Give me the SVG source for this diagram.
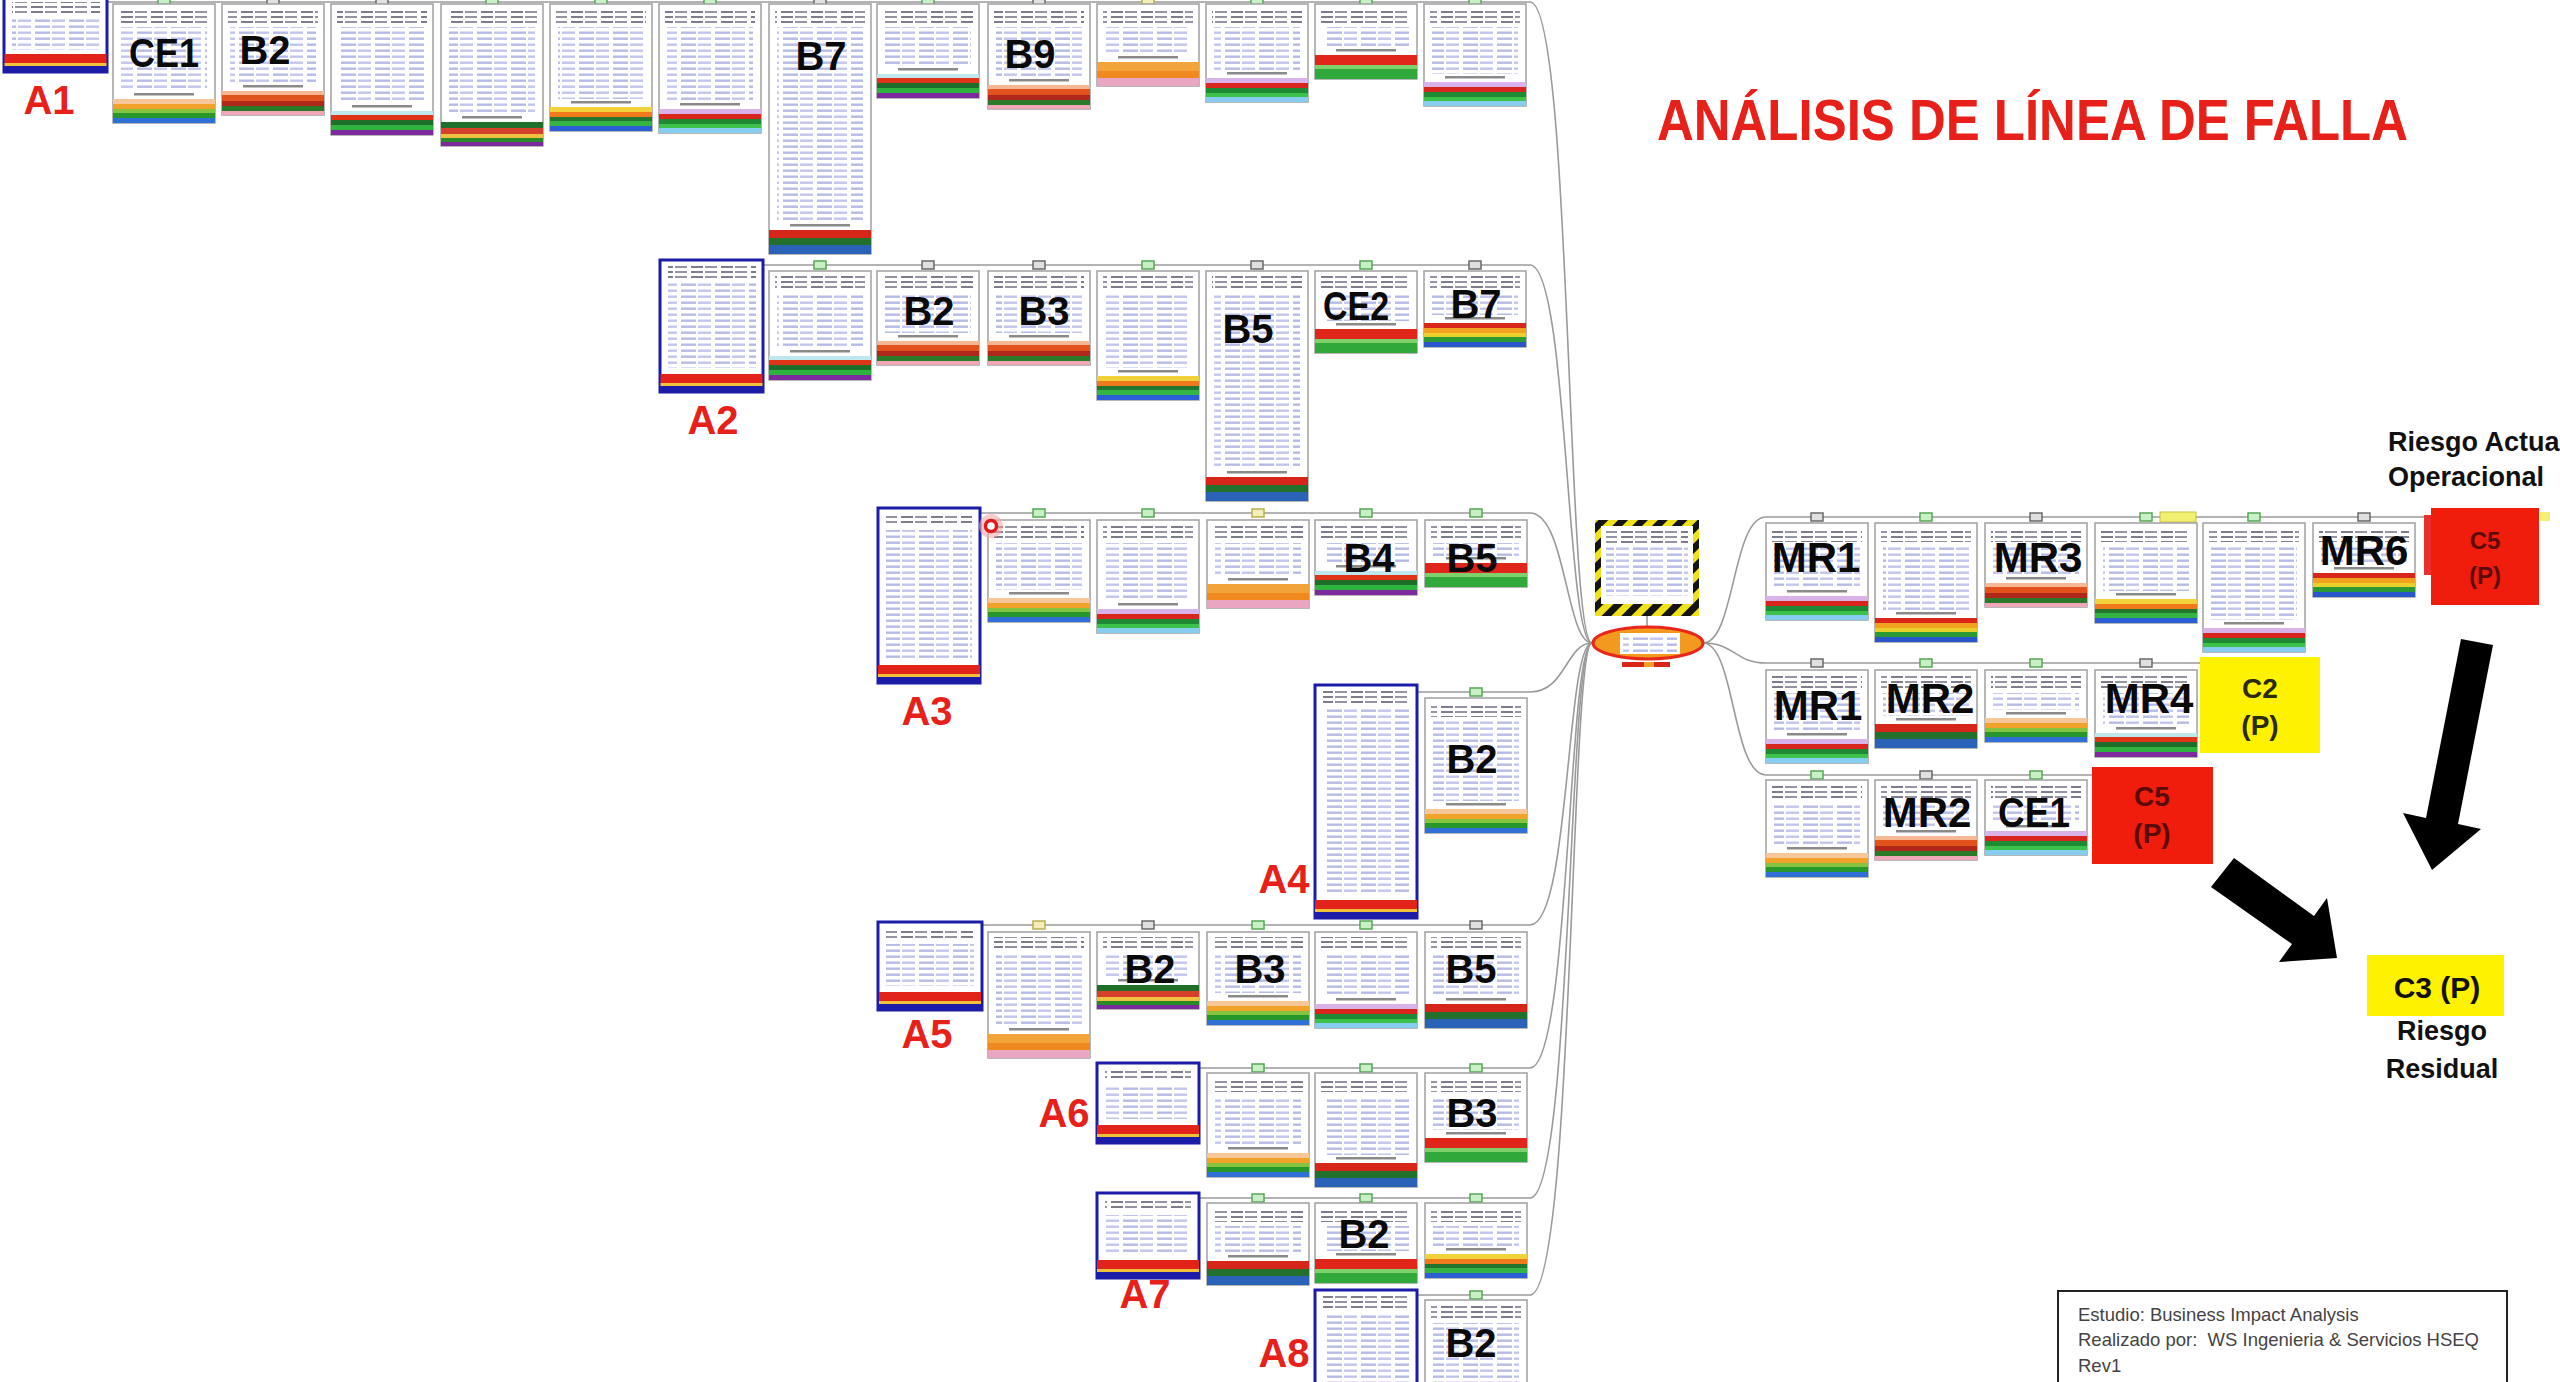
<svg xmlns="http://www.w3.org/2000/svg" xmlns:xlink="http://www.w3.org/1999/xlink" width="2560" height="1382" viewBox="0 0 2560 1382">
<defs>
<style>
.cd{fill:#fff;stroke:#a0a0a0;stroke-width:1.5}
.ca{fill:#fff;stroke:#1c1ca8;stroke-width:3}
.hd{fill:url(#td)}
.tx{fill:url(#tl)}
.cn{fill:none;stroke:#9a9a9a;stroke-width:1.6}
.lb{font-family:"Liberation Sans",Arial,sans-serif;font-weight:700;font-size:40px;text-anchor:middle;fill:#0a0a0a}
.mr{font-size:42px}
.al{font-family:"Liberation Sans",Arial,sans-serif;font-weight:700;font-size:40px;text-anchor:middle;fill:#e8201a}
.bx{font-family:"Liberation Sans",Arial,sans-serif;font-weight:700;text-anchor:middle}
.rk{font-family:"Liberation Sans",Arial,sans-serif;font-weight:700;font-size:27px;fill:#111}
.info{font-family:"Liberation Sans",Arial,sans-serif;font-size:18.5px;fill:#444}
.sm{fill:#8a8a8a}
</style>
<pattern id="tl" width="34" height="6" patternUnits="userSpaceOnUse"><rect x="1" y="1.5" width="15" height="2.4" fill="#b6bbe6"/><rect x="18" y="1.5" width="13" height="2.4" fill="#c3c6ec"/></pattern>
<pattern id="td" width="30" height="5" patternUnits="userSpaceOnUse"><rect x="1" y="1" width="12" height="2" fill="#7c7c8a"/><rect x="15" y="1" width="12" height="2" fill="#9494a2"/></pattern>
<pattern id="hz" width="14" height="14" patternUnits="userSpaceOnUse" patternTransform="rotate(45)"><rect width="14" height="14" fill="#efe21a"/><rect width="7" height="14" fill="#141414"/></pattern>
<g id="tG"><rect x="-6" y="-4" width="12" height="8" fill="#c9efc6" stroke="#55a855" stroke-width="1.5"/></g>
<g id="tK"><rect x="-6" y="-4" width="12" height="8" fill="#e0e0e0" stroke="#6a6a6a" stroke-width="1.5"/></g>
<g id="tY"><rect x="-6" y="-4" width="12" height="8" fill="#f4efb8" stroke="#b8b050" stroke-width="1.5"/></g>
<g id="s1"><rect class="sm" x="21" y="-6" width="60" height="2.5"/><rect y="0" width="102" height="5" fill="#f7c79a"/><rect y="5" width="102" height="5" fill="#f0a22a"/><rect y="10" width="102" height="4" fill="#86c440"/><rect y="14" width="102" height="5" fill="#27962b"/><rect y="19" width="102" height="5" fill="#2f6fd6"/></g>
<g id="s2"><rect class="sm" x="21" y="-6" width="60" height="2.5"/><rect y="0" width="102" height="4" fill="#f6b894"/><rect y="4" width="102" height="6" fill="#e2521c"/><rect y="10" width="102" height="5" fill="#b0281a"/><rect y="15" width="102" height="5" fill="#2a7a2a"/><rect y="20" width="102" height="4" fill="#f0a8b8"/></g>
<g id="s3"><rect class="sm" x="21" y="-6" width="60" height="2.5"/><rect y="0" width="102" height="4" fill="#bfe8ee"/><rect y="4" width="102" height="5" fill="#e03418"/><rect y="9" width="102" height="5" fill="#1d6e2a"/><rect y="14" width="102" height="5" fill="#2fb33f"/><rect y="19" width="102" height="5" fill="#7c2a9e"/></g>
<g id="s4"><rect class="sm" x="21" y="-6" width="60" height="2.5"/><rect y="0" width="102" height="5" fill="#f2d23a"/><rect y="5" width="102" height="5" fill="#ee7a1c"/><rect y="10" width="102" height="4" fill="#22762e"/><rect y="14" width="102" height="5" fill="#34b444"/><rect y="19" width="102" height="5" fill="#2c5fd4"/></g>
<g id="s5"><rect class="sm" x="21" y="-6" width="60" height="2.5"/><rect y="0" width="102" height="5" fill="#d9b2ea"/><rect y="5" width="102" height="5" fill="#d8261e"/><rect y="10" width="102" height="5" fill="#1f8a34"/><rect y="15" width="102" height="4" fill="#3cc24a"/><rect y="19" width="102" height="5" fill="#86cdef"/></g>
<g id="s6"><rect class="sm" x="21" y="-6" width="60" height="2.5"/><rect y="0" width="102" height="8" fill="#d6261a"/><rect y="8" width="102" height="7" fill="#236f2c"/><rect y="15" width="102" height="9" fill="#2a62b8"/></g>
<g id="s7"><rect class="sm" x="21" y="-6" width="60" height="2.5"/><rect y="0" width="102" height="9" fill="#f2a43a"/><rect y="9" width="102" height="7" fill="#f08a20"/><rect y="16" width="102" height="8" fill="#e9a6c2"/></g>
<g id="s8"><rect class="sm" x="21" y="-6" width="60" height="2.5"/><rect y="0" width="102" height="10" fill="#e0261a"/><rect y="10" width="102" height="4" fill="#7ed06a"/><rect y="14" width="102" height="10" fill="#30a83a"/></g>
<g id="s9"><rect class="sm" x="21" y="-6" width="60" height="2.5"/><rect y="0" width="102" height="5" fill="#d8261a"/><rect y="5" width="102" height="5" fill="#f2a21e"/><rect y="10" width="102" height="4" fill="#e9d02a"/><rect y="14" width="102" height="5" fill="#2b9a32"/><rect y="19" width="102" height="5" fill="#2a56cc"/></g>
<g id="s10"><rect class="sm" x="21" y="-6" width="60" height="2.5"/><rect y="0" width="102" height="6" fill="#1f6e2a"/><rect y="6" width="102" height="6" fill="#d4402a"/><rect y="12" width="102" height="4" fill="#f0c040"/><rect y="16" width="102" height="4" fill="#2a8a2a"/><rect y="20" width="102" height="4" fill="#7a2a9a"/></g>
<g id="sA"><rect y="0" width="102" height="9" fill="#e2231a"/><rect y="9" width="102" height="3" fill="#f0c23a"/><rect y="12" width="102" height="6" fill="#1c1ca8"/></g>
</defs>
<rect width="2560" height="1382" fill="#ffffff"/>

<g id="connectors">
<path class="cn" d="M107,2 H1530 C1572,2 1566,643 1592,643"/>
<path class="cn" d="M763,265 H1530 C1568,265 1566,643 1592,643"/>
<path class="cn" d="M980,513 H1530 C1566,513 1566,643 1592,643"/>
<path class="cn" d="M1417,692 H1530 C1566,692 1566,643 1592,643"/>
<path class="cn" d="M982,925 H1530 C1570,925 1566,643 1592,643"/>
<path class="cn" d="M1199,1068 H1530 C1570,1068 1568,643 1592,643"/>
<path class="cn" d="M1199,1198 H1530 C1572,1198 1568,643 1592,643"/>
<path class="cn" d="M1417,1295 H1530 C1574,1295 1570,643 1592,643"/>
<path class="cn" d="M1703,643 C1735,643 1732,517 1766,517 H2431"/>
<path class="cn" d="M1703,643 C1735,643 1735,663 1766,663 H2200"/>
<path class="cn" d="M1703,643 C1735,643 1732,775 1766,775 H2092"/>
<path class="cn" d="M1647,616 V630"/>
</g>

<g id="title"><text x="1657" y="140" font-family="Liberation Sans, Arial, sans-serif" font-weight="700" font-size="58" fill="#e8201a" textLength="751" lengthAdjust="spacingAndGlyphs">ANÁLISIS DE LÍNEA DE FALLA</text></g>

<!-- Row 1 -->
<g id="A1"><rect class="ca" x="4" y="-3" width="103" height="75"/><rect class="hd" x="12" y="2" width="88" height="12"/><rect class="tx" x="12" y="18" width="88" height="32"/><use href="#sA" x="4.5" y="54"/><text class="al" x="49" y="114">A1</text></g>
<g id="r1c1"><use href="#tG" x="164" y="1"/><rect class="cd" x="113" y="4" width="102" height="119"/><rect class="hd" x="119" y="9" width="90" height="14"/><rect class="tx" x="121" y="27" width="86" height="64"/><use href="#s1" x="113" y="99"/><text class="lb" x="164" y="67" textLength="70" lengthAdjust="spacingAndGlyphs">CE1</text></g>
<g id="r1c2"><use href="#tK" x="273" y="1"/><rect class="cd" x="222" y="4" width="102" height="111"/><rect class="hd" x="228" y="9" width="90" height="14"/><rect class="tx" x="230" y="27" width="86" height="56"/><use href="#s2" x="222" y="91"/><text class="lb" x="265" y="64">B2</text></g>
<g id="r1c3"><use href="#tK" x="382" y="1"/><rect class="cd" x="331" y="4" width="102" height="131"/><rect class="hd" x="337" y="9" width="90" height="14"/><rect class="tx" x="339" y="27" width="86" height="76"/><use href="#s3" x="331" y="111"/></g>
<g id="r1c4"><use href="#tG" x="492" y="1"/><rect class="cd" x="441" y="4" width="102" height="142"/><rect class="hd" x="447" y="9" width="90" height="14"/><rect class="tx" x="449" y="27" width="86" height="87"/><use href="#s10" x="441" y="122"/></g>
<g id="r1c5"><use href="#tG" x="601" y="1"/><rect class="cd" x="550" y="4" width="102" height="127"/><rect class="hd" x="556" y="9" width="90" height="14"/><rect class="tx" x="558" y="27" width="86" height="72"/><use href="#s4" x="550" y="107"/></g>
<g id="r1c6"><use href="#tG" x="710" y="1"/><rect class="cd" x="659" y="4" width="102" height="129"/><rect class="hd" x="665" y="9" width="90" height="14"/><rect class="tx" x="667" y="27" width="86" height="74"/><use href="#s5" x="659" y="109"/></g>
<g id="r1c7"><use href="#tK" x="820" y="1"/><rect class="cd" x="769" y="4" width="102" height="250"/><rect class="hd" x="775" y="9" width="90" height="14"/><rect class="tx" x="777" y="27" width="86" height="195"/><use href="#s6" x="769" y="230"/><text class="lb" x="821" y="70">B7</text></g>
<g id="r1c8"><use href="#tG" x="928" y="1"/><rect class="cd" x="877" y="4" width="102" height="94"/><rect class="hd" x="883" y="9" width="90" height="14"/><rect class="tx" x="885" y="27" width="86" height="39"/><use href="#s3" x="877" y="74"/></g>
<g id="r1c9"><use href="#tK" x="1039" y="1"/><rect class="cd" x="988" y="4" width="102" height="105"/><rect class="hd" x="994" y="9" width="90" height="14"/><rect class="tx" x="996" y="27" width="86" height="50"/><use href="#s2" x="988" y="85"/><text class="lb" x="1030" y="68">B9</text></g>
<g id="r1c10"><use href="#tY" x="1148" y="1"/><rect class="cd" x="1097" y="4" width="102" height="82"/><rect class="hd" x="1103" y="9" width="90" height="14"/><rect class="tx" x="1105" y="27" width="86" height="27"/><use href="#s7" x="1097" y="62"/></g>
<g id="r1c11"><use href="#tG" x="1257" y="1"/><rect class="cd" x="1206" y="4" width="102" height="98"/><rect class="hd" x="1212" y="9" width="90" height="14"/><rect class="tx" x="1214" y="27" width="86" height="43"/><use href="#s5" x="1206" y="78"/></g>
<g id="r1c12"><use href="#tG" x="1366" y="1"/><rect class="cd" x="1315" y="4" width="102" height="75"/><rect class="hd" x="1321" y="9" width="90" height="14"/><rect class="tx" x="1323" y="27" width="86" height="20"/><use href="#s8" x="1315" y="55"/></g>
<g id="r1c13"><use href="#tG" x="1475" y="1"/><rect class="cd" x="1424" y="4" width="102" height="102"/><rect class="hd" x="1430" y="9" width="90" height="14"/><rect class="tx" x="1432" y="27" width="86" height="47"/><use href="#s5" x="1424" y="82"/></g>

<!-- Row 2 -->
<g id="A2"><rect class="ca" x="660" y="260" width="103" height="132"/><rect class="hd" x="668" y="266" width="88" height="12"/><rect class="tx" x="668" y="282" width="88" height="86"/><use href="#sA" x="660.5" y="374"/><text class="al" x="713" y="434">A2</text></g>
<g id="r2c1"><use href="#tG" x="820" y="265"/><rect class="cd" x="769" y="271" width="102" height="109"/><rect class="hd" x="775" y="276" width="90" height="14"/><rect class="tx" x="777" y="294" width="86" height="54"/><use href="#s3" x="769" y="356"/></g>
<g id="r2c2"><use href="#tK" x="928" y="265"/><rect class="cd" x="877" y="271" width="102" height="94"/><rect class="hd" x="883" y="276" width="90" height="14"/><rect class="tx" x="885" y="294" width="86" height="39"/><use href="#s2" x="877" y="341"/><text class="lb" x="929" y="325">B2</text></g>
<g id="r2c3"><use href="#tK" x="1039" y="265"/><rect class="cd" x="988" y="271" width="102" height="94"/><rect class="hd" x="994" y="276" width="90" height="14"/><rect class="tx" x="996" y="294" width="86" height="39"/><use href="#s2" x="988" y="341"/><text class="lb" x="1044" y="325">B3</text></g>
<g id="r2c4"><use href="#tG" x="1148" y="265"/><rect class="cd" x="1097" y="271" width="102" height="129"/><rect class="hd" x="1103" y="276" width="90" height="14"/><rect class="tx" x="1105" y="294" width="86" height="74"/><use href="#s4" x="1097" y="376"/></g>
<g id="r2c5"><use href="#tK" x="1257" y="265"/><rect class="cd" x="1206" y="271" width="102" height="230"/><rect class="hd" x="1212" y="276" width="90" height="14"/><rect class="tx" x="1214" y="294" width="86" height="175"/><use href="#s6" x="1206" y="477"/><text class="lb" x="1248" y="343">B5</text></g>
<g id="r2c6"><use href="#tG" x="1366" y="265"/><rect class="cd" x="1315" y="271" width="102" height="82"/><rect class="hd" x="1321" y="276" width="90" height="14"/><rect class="tx" x="1323" y="294" width="86" height="27"/><use href="#s8" x="1315" y="329"/><text class="lb" x="1356" y="320" textLength="66" lengthAdjust="spacingAndGlyphs">CE2</text></g>
<g id="r2c7"><use href="#tK" x="1475" y="265"/><rect class="cd" x="1424" y="271" width="102" height="76"/><rect class="hd" x="1430" y="276" width="90" height="14"/><rect class="tx" x="1432" y="294" width="86" height="21"/><use href="#s9" x="1424" y="323"/><text class="lb" x="1476" y="318">B7</text></g>

<!-- Row 3 -->
<g id="A3"><rect class="ca" x="878" y="508" width="102" height="175"/><rect class="hd" x="886" y="514" width="86" height="12"/><rect class="tx" x="886" y="530" width="86" height="128"/><use href="#sA" x="878" y="665"/><text class="al" x="927" y="725">A3</text></g>
<g id="r3c1"><use href="#tG" x="1039" y="513"/><rect class="cd" x="988" y="520" width="102" height="102"/><rect class="hd" x="994" y="525" width="90" height="14"/><rect class="tx" x="996" y="543" width="86" height="47"/><use href="#s1" x="988" y="598"/></g>
<g id="marker"><circle cx="991" cy="526" r="12" fill="#f7a8a8" opacity="0.6"/><circle cx="991" cy="526" r="5.5" fill="#fff" stroke="#e01a1a" stroke-width="3.5"/></g>
<g id="r3c2"><use href="#tG" x="1148" y="513"/><rect class="cd" x="1097" y="520" width="102" height="113"/><rect class="hd" x="1103" y="525" width="90" height="14"/><rect class="tx" x="1105" y="543" width="86" height="58"/><use href="#s5" x="1097" y="609"/></g>
<g id="r3c3"><use href="#tY" x="1258" y="513"/><rect class="cd" x="1207" y="520" width="102" height="88"/><rect class="hd" x="1213" y="525" width="90" height="14"/><rect class="tx" x="1215" y="543" width="86" height="33"/><use href="#s7" x="1207" y="584"/></g>
<g id="r3c4"><use href="#tG" x="1366" y="513"/><rect class="cd" x="1315" y="520" width="102" height="75"/><rect class="hd" x="1321" y="525" width="90" height="14"/><rect class="tx" x="1323" y="543" width="86" height="20"/><use href="#s3" x="1315" y="571"/><text class="lb" x="1369" y="572">B4</text></g>
<g id="r3c5"><use href="#tG" x="1476" y="513"/><rect class="cd" x="1425" y="520" width="102" height="67"/><rect class="hd" x="1431" y="525" width="90" height="14"/><rect class="tx" x="1433" y="543" width="86" height="14"/><use href="#s8" x="1425" y="563"/><text class="lb" x="1472" y="572">B5</text></g>

<!-- Row 4 -->
<g id="A4"><rect class="ca" x="1315" y="685" width="102" height="233"/><rect class="hd" x="1323" y="691" width="86" height="12"/><rect class="tx" x="1323" y="707" width="86" height="186"/><use href="#sA" x="1315" y="900"/><text class="al" x="1284" y="893">A4</text></g>
<g id="r4c1"><use href="#tG" x="1476" y="692"/><rect class="cd" x="1425" y="698" width="102" height="135"/><rect class="hd" x="1431" y="703" width="90" height="14"/><rect class="tx" x="1433" y="721" width="86" height="80"/><use href="#s1" x="1425" y="809"/><text class="lb" x="1472" y="773">B2</text></g>

<!-- Row 5 -->
<g id="A5"><rect class="ca" x="878" y="922" width="104" height="88"/><rect class="hd" x="886" y="928" width="88" height="12"/><rect class="tx" x="886" y="944" width="88" height="42"/><use href="#sA" x="879" y="992"/><text class="al" x="927" y="1048">A5</text></g>
<g id="r5c1"><use href="#tY" x="1039" y="925"/><rect class="cd" x="988" y="932" width="102" height="126"/><rect class="hd" x="994" y="937" width="90" height="14"/><rect class="tx" x="996" y="955" width="86" height="71"/><use href="#s7" x="988" y="1034"/></g>
<g id="r5c2"><use href="#tK" x="1148" y="925"/><rect class="cd" x="1097" y="932" width="102" height="77"/><rect class="hd" x="1103" y="937" width="90" height="14"/><rect class="tx" x="1105" y="955" width="86" height="22"/><use href="#s10" x="1097" y="985"/><text class="lb" x="1150" y="983">B2</text></g>
<g id="r5c3"><use href="#tG" x="1258" y="925"/><rect class="cd" x="1207" y="932" width="102" height="93"/><rect class="hd" x="1213" y="937" width="90" height="14"/><rect class="tx" x="1215" y="955" width="86" height="38"/><use href="#s1" x="1207" y="1001"/><text class="lb" x="1260" y="983">B3</text></g>
<g id="r5c4"><use href="#tG" x="1366" y="925"/><rect class="cd" x="1315" y="932" width="102" height="96"/><rect class="hd" x="1321" y="937" width="90" height="14"/><rect class="tx" x="1323" y="955" width="86" height="41"/><use href="#s5" x="1315" y="1004"/></g>
<g id="r5c5"><use href="#tK" x="1476" y="925"/><rect class="cd" x="1425" y="932" width="102" height="96"/><rect class="hd" x="1431" y="937" width="90" height="14"/><rect class="tx" x="1433" y="955" width="86" height="41"/><use href="#s6" x="1425" y="1004"/><text class="lb" x="1471" y="983">B5</text></g>

<!-- Row 6 -->
<g id="A6"><rect class="ca" x="1097" y="1063" width="102" height="80"/><rect class="hd" x="1105" y="1069" width="86" height="12"/><rect class="tx" x="1105" y="1085" width="86" height="34"/><use href="#sA" x="1097" y="1125"/><text class="al" x="1064" y="1127">A6</text></g>
<g id="r6c1"><use href="#tG" x="1258" y="1068"/><rect class="cd" x="1207" y="1073" width="102" height="104"/><rect class="hd" x="1213" y="1078" width="90" height="14"/><rect class="tx" x="1215" y="1096" width="86" height="49"/><use href="#s1" x="1207" y="1153"/></g>
<g id="r6c2"><use href="#tG" x="1366" y="1068"/><rect class="cd" x="1315" y="1073" width="102" height="114"/><rect class="hd" x="1321" y="1078" width="90" height="14"/><rect class="tx" x="1323" y="1096" width="86" height="59"/><use href="#s6" x="1315" y="1163"/></g>
<g id="r6c3"><use href="#tG" x="1476" y="1068"/><rect class="cd" x="1425" y="1073" width="102" height="89"/><rect class="hd" x="1431" y="1078" width="90" height="14"/><rect class="tx" x="1433" y="1096" width="86" height="34"/><use href="#s8" x="1425" y="1138"/><text class="lb" x="1472" y="1127">B3</text></g>

<!-- Row 7 -->
<g id="A7"><rect class="ca" x="1097" y="1193" width="102" height="85"/><rect class="hd" x="1105" y="1199" width="86" height="12"/><rect class="tx" x="1105" y="1215" width="86" height="39"/><use href="#sA" x="1097" y="1260"/><text class="al" x="1145" y="1308">A7</text></g>
<g id="r7c1"><use href="#tG" x="1258" y="1198"/><rect class="cd" x="1207" y="1203" width="102" height="82"/><rect class="hd" x="1213" y="1208" width="90" height="14"/><rect class="tx" x="1215" y="1226" width="86" height="27"/><use href="#s6" x="1207" y="1261"/></g>
<g id="r7c2"><use href="#tG" x="1366" y="1198"/><rect class="cd" x="1315" y="1203" width="102" height="80"/><rect class="hd" x="1321" y="1208" width="90" height="14"/><rect class="tx" x="1323" y="1226" width="86" height="25"/><use href="#s8" x="1315" y="1259"/><text class="lb" x="1364" y="1248">B2</text></g>
<g id="r7c3"><use href="#tG" x="1476" y="1198"/><rect class="cd" x="1425" y="1203" width="102" height="75"/><rect class="hd" x="1431" y="1208" width="90" height="14"/><rect class="tx" x="1433" y="1226" width="86" height="20"/><use href="#s4" x="1425" y="1254"/></g>

<!-- Row 8 -->
<g id="A8"><rect class="ca" x="1315" y="1290" width="102" height="110"/><rect class="hd" x="1323" y="1296" width="86" height="12"/><rect class="tx" x="1323" y="1312" width="86" height="80"/><text class="al" x="1284" y="1367">A8</text></g>
<g id="r8c1"><use href="#tG" x="1476" y="1295"/><rect class="cd" x="1425" y="1300" width="102" height="100"/><rect class="hd" x="1431" y="1305" width="90" height="14"/><rect class="tx" x="1433" y="1323" width="86" height="70"/><text class="lb" x="1471" y="1357">B2</text></g>

<!-- Central node -->
<g id="center">
<rect x="1595" y="520" width="104" height="96" fill="url(#hz)"/>
<rect x="1601" y="526" width="92" height="78" fill="#fff"/>
<rect class="hd" x="1606" y="529" width="82" height="14"/>
<rect class="tx" x="1606" y="546" width="82" height="50"/>
<ellipse cx="1648" cy="643" rx="55" ry="16" fill="#f39a1e" stroke="#e8261a" stroke-width="3"/>
<rect x="1620" y="633" width="60" height="21" fill="#fff"/>
<rect class="tx" x="1623" y="635" width="54" height="17"/>
<rect x="1622" y="662" width="22" height="5" fill="#d8261a"/>
<rect x="1644" y="662" width="10" height="5" fill="#f2a21e"/>
<rect x="1654" y="662" width="16" height="5" fill="#d8261a"/>
</g>

<!-- MR row 1 -->
<g id="m1c1"><use href="#tK" x="1817" y="517"/><rect class="cd" x="1766" y="523" width="102" height="97"/><rect class="hd" x="1772" y="528" width="90" height="14"/><rect class="tx" x="1774" y="546" width="86" height="42"/><use href="#s5" x="1766" y="596"/><text class="lb mr" x="1816" y="572">MR1</text></g>
<g id="m1c2"><use href="#tG" x="1926" y="517"/><rect class="cd" x="1875" y="523" width="102" height="119"/><rect class="hd" x="1881" y="528" width="90" height="14"/><rect class="tx" x="1883" y="546" width="86" height="64"/><use href="#s9" x="1875" y="618"/></g>
<g id="m1c3"><use href="#tK" x="2036" y="517"/><rect class="cd" x="1985" y="523" width="102" height="84"/><rect class="hd" x="1991" y="528" width="90" height="14"/><rect class="tx" x="1993" y="546" width="86" height="29"/><use href="#s2" x="1985" y="583"/><text class="lb mr" x="2038" y="572">MR3</text></g>
<g id="m1c4"><use href="#tG" x="2146" y="517"/><rect x="2160" y="512" width="36" height="10" fill="#f2f070" stroke="#c8c040"/><rect class="cd" x="2095" y="523" width="102" height="100"/><rect class="hd" x="2101" y="528" width="90" height="14"/><rect class="tx" x="2103" y="546" width="86" height="45"/><use href="#s4" x="2095" y="599"/></g>
<g id="m1c5"><use href="#tG" x="2254" y="517"/><rect class="cd" x="2203" y="523" width="102" height="129"/><rect class="hd" x="2209" y="528" width="90" height="14"/><rect class="tx" x="2211" y="546" width="86" height="74"/><use href="#s5" x="2203" y="628"/></g>
<g id="m1c6"><use href="#tK" x="2364" y="517"/><rect class="cd" x="2313" y="523" width="102" height="74"/><rect class="hd" x="2319" y="528" width="90" height="14"/><rect class="tx" x="2321" y="546" width="86" height="19"/><use href="#s9" x="2313" y="573"/><text class="lb mr" x="2364" y="565">MR6</text></g>
<g id="C5a"><rect x="2424" y="515" width="7" height="60" fill="#e83030"/><rect x="2431" y="508" width="108" height="97" fill="#f01c0c"/><rect x="2540" y="512" width="10" height="9" fill="#f2f070"/><text class="bx" x="2485" y="549" font-size="24" fill="#5a0a0a">C5</text><text class="bx" x="2485" y="584" font-size="24" fill="#5a0a0a">(P)</text></g>

<!-- MR row 2 -->
<g id="m2c1"><use href="#tK" x="1817" y="663"/><rect class="cd" x="1766" y="670" width="102" height="93"/><rect class="hd" x="1772" y="675" width="90" height="14"/><rect class="tx" x="1774" y="693" width="86" height="38"/><use href="#s5" x="1766" y="739"/><text class="lb mr" x="1818" y="720">MR1</text></g>
<g id="m2c2"><use href="#tG" x="1926" y="663"/><rect class="cd" x="1875" y="670" width="102" height="78"/><rect class="hd" x="1881" y="675" width="90" height="14"/><rect class="tx" x="1883" y="693" width="86" height="23"/><use href="#s6" x="1875" y="724"/><text class="lb mr" x="1930" y="713">MR2</text></g>
<g id="m2c3"><use href="#tG" x="2036" y="663"/><rect class="cd" x="1985" y="670" width="102" height="72"/><rect class="hd" x="1991" y="675" width="90" height="14"/><rect class="tx" x="1993" y="693" width="86" height="17"/><use href="#s1" x="1985" y="718"/></g>
<g id="m2c4"><use href="#tK" x="2146" y="663"/><rect class="cd" x="2095" y="670" width="102" height="87"/><rect class="hd" x="2101" y="675" width="90" height="14"/><rect class="tx" x="2103" y="693" width="86" height="32"/><use href="#s3" x="2095" y="733"/><text class="lb mr" x="2149" y="713">MR4</text></g>
<g id="C2"><rect x="2200" y="657" width="120" height="96" fill="#fff200"/><text class="bx" x="2260" y="698" font-size="28" fill="#2a2a10">C2</text><text class="bx" x="2260" y="735" font-size="28" fill="#2a2a10">(P)</text></g>

<!-- MR row 3 -->
<g id="m3c1"><use href="#tG" x="1817" y="775"/><rect class="cd" x="1766" y="780" width="102" height="97"/><rect class="hd" x="1772" y="785" width="90" height="14"/><rect class="tx" x="1774" y="803" width="86" height="42"/><use href="#s1" x="1766" y="853"/></g>
<g id="m3c2"><use href="#tK" x="1926" y="775"/><rect class="cd" x="1875" y="780" width="102" height="80"/><rect class="hd" x="1881" y="785" width="90" height="14"/><rect class="tx" x="1883" y="803" width="86" height="25"/><use href="#s2" x="1875" y="836"/><text class="lb mr" x="1927" y="827">MR2</text></g>
<g id="m3c3"><use href="#tG" x="2036" y="775"/><rect class="cd" x="1985" y="780" width="102" height="75"/><rect class="hd" x="1991" y="785" width="90" height="14"/><rect class="tx" x="1993" y="803" width="86" height="20"/><use href="#s5" x="1985" y="831"/><text class="lb mr" x="2034" y="827" textLength="72" lengthAdjust="spacingAndGlyphs">CE1</text></g>
<g id="C5b"><rect x="2092" y="767" width="121" height="97" fill="#f01c0c"/><text class="bx" x="2152" y="806" font-size="28" fill="#5a0a0a">C5</text><text class="bx" x="2152" y="843" font-size="28" fill="#5a0a0a">(P)</text></g>

<!-- Risk labels and arrows -->
<g id="riesgoActual"><text class="rk" x="2388" y="451">Riesgo Actua</text><text class="rk" x="2388" y="486">Operacional</text></g>
<g id="arrows">
<polygon points="2461,639 2493,645 2458,824 2481,829 2432,870 2403,813 2426,818" fill="#000"/>
<polygon points="2234,858 2314,916 2327,898 2337,958 2279,962 2292,944 2211,887" fill="#000"/>
</g>
<g id="C3"><rect x="2367" y="955" width="137" height="61" fill="#fff200"/><text class="bx" x="2437" y="998" font-size="30" fill="#111">C3 (P)</text><text class="bx" x="2442" y="1040" font-size="27" fill="#111">Riesgo</text><text class="bx" x="2442" y="1078" font-size="27" fill="#111">Residual</text></g>

<g id="info"><rect x="2058" y="1291" width="449" height="110" fill="#fff" stroke="#222" stroke-width="2"/>
<text class="info" x="2078" y="1321">Estudio: Business Impact Analysis</text>
<text class="info" x="2078" y="1346">Realizado por:&#160; WS Ingenieria &amp; Servicios HSEQ</text>
<text class="info" x="2078" y="1372">Rev1</text></g>
</svg>
